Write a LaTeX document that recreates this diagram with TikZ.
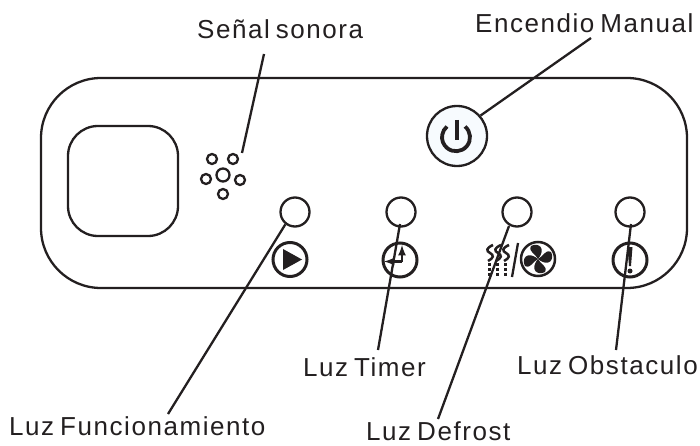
\documentclass[tikz,border=0pt]{standalone}
\usepackage{fontspec}
\setmainfont{Liberation Sans}[LetterSpace=6]
\usetikzlibrary{arrows, positioning}
\definecolor{inkdark}{HTML}{231F20}
\definecolor{btnfill}{HTML}{F7FBFE}
\newcommand{\calloutfont}{\fontsize{26}{28}\selectfont\spaceskip 6pt\relax}

\begin{document}
\begin{tikzpicture}[
  x=1pt, y=1pt,
  line width=2.3pt, draw=inkdark, inkdark,
  lamp/.style={circle, draw, inner sep=0, minimum size=29pt},
  icon/.style={circle, draw, line width=3pt, inner sep=0, minimum size=34pt},
  hole/.style={circle, draw, inner sep=0, minimum size=10pt},
  callout/.style={anchor=base west, inner sep=0, font=\calloutfont},
  wave/.style={line width=2.5pt},
  dots/.style={line width=3pt, dash pattern=on 3pt off 1.8pt},
  blade/.style={shift={(538,186)}}]

  \useasboundingbox (0,0) rectangle (700,445);

  % panel
  \draw[rounded corners=60pt] (41,157) rectangle (687,367);
  \draw[rounded corners=30pt] (68,209) rectangle (178,319);

  % holes
  \node[hole] (hole1) at (212,286) {};
  \node[hole] (hole2) at (233,286) {};
  \node[hole] (hole3) at (206,266) {};
  \node[hole, minimum size=13pt] (hole4) at (223,270) {};
  \node[hole] (hole5) at (240,265) {};
  \node[hole] (hole6) at (223,251) {};

  % button
  \node[circle, draw, fill=btnfill, inner sep=0, minimum size=60pt] (btn) at (457,309) {};
  \draw[line width=3.8pt] (btn.center) ++(8,9.5) arc[start angle=50, end angle=-230, radius=14pt];
  \draw[line width=3.8pt] (457,325) -- (457,305);

  % lamps
  \node[lamp] (lamprun) at (295,233) {};
  \node[lamp] (lamptimer) at (401,233) {};
  \node[lamp] (lampfrost) at (517,233) {};
  \node[lamp] (lampstop) at (630,233) {};

  % icons
  \node[icon] (iconrun) at (290,185.5) {};
  \fill (283,196) -- (302,185.5) -- (283,175) -- cycle;

  \node[icon] (icontimer) at (400,185) {};
  \draw[line width=2.5pt, -latex] (402,183.5) -- (402,200);
  \draw[line width=2.5pt, -latex] (402,183.5) -- (384,183.5);

  \draw[wave] (493,200) .. controls (486,197) and (486,194) .. (490,192) .. controls (494,190) and (494,187) .. (488,184);
  \draw[wave] (501,200) .. controls (494,197) and (494,194) .. (498,192) .. controls (502,190) and (502,187) .. (496,184);
  \draw[wave] (509,200) .. controls (502,197) and (502,194) .. (506,192) .. controls (510,190) and (510,187) .. (504,184);
  \draw[dots] (489,182) -- (489,168);
  \draw[dots] (497,182) -- (497,168);
  \draw[dots] (505,182) -- (505,168);
  \draw (518,202) -- (512,168);

  \node[icon, line width=2.5pt] (iconfan) at (538,186) {};
  \fill[blade] (0,0) .. controls (-2,5) and (-10,7) .. (-7,13) .. controls (0,17) and (9,11) .. (0,0);
  \fill[blade, rotate=90] (0,0) .. controls (-2,5) and (-10,7) .. (-7,13) .. controls (0,17) and (9,11) .. (0,0);
  \fill[blade, rotate=180] (0,0) .. controls (-2,5) and (-10,7) .. (-7,13) .. controls (0,17) and (9,11) .. (0,0);
  \fill[blade, rotate=270] (0,0) .. controls (-2,5) and (-10,7) .. (-7,13) .. controls (0,17) and (9,11) .. (0,0);

  \node[icon] (iconstop) at (630,185) {};
  \fill (627.5,198) -- (632.5,198) -- (631,179) -- (629,179) -- cycle;
  \fill (630,174) circle (2.5pt);

  % labels
  \node[callout] (lblsound) at (196,406) {Señal sonora};
  \node[callout] (lblbtn) at (474,412) {Encendio Manual};
  \node[callout] (lblrun) at (8,10) {Luz Funcionamiento};
  \node[callout] (lbltimer) at (302,69) {Luz Timer};
  \node[callout] (lblfrost) at (365,5) {Luz Defrost};
  \node[callout] (lblstop) at (516,71) {Luz Obstaculo};

  % leader ends
  \coordinate (soundtop) at (264,391);
  \coordinate (soundtip) at (242,292);
  \coordinate (btntop) at (591,407);
  \coordinate (runend) at (168,31);
  \coordinate (timertip) at (400,221);
  \coordinate (timerend) at (378,95);
  \coordinate (frosttip) at (509,219);
  \coordinate (frostend) at (438,26);
  \coordinate (stoptip) at (631,221);
  \coordinate (stopend) at (616,95);

  \draw (soundtop) -- (soundtip);
  \draw (btntop) -- (btn.41);
  \draw (lamprun.232) -- (runend);
  \draw (timertip) -- (timerend);
  \draw (frosttip) -- (frostend);
  \draw (stoptip) -- (stopend);
\end{tikzpicture}
\end{document}
